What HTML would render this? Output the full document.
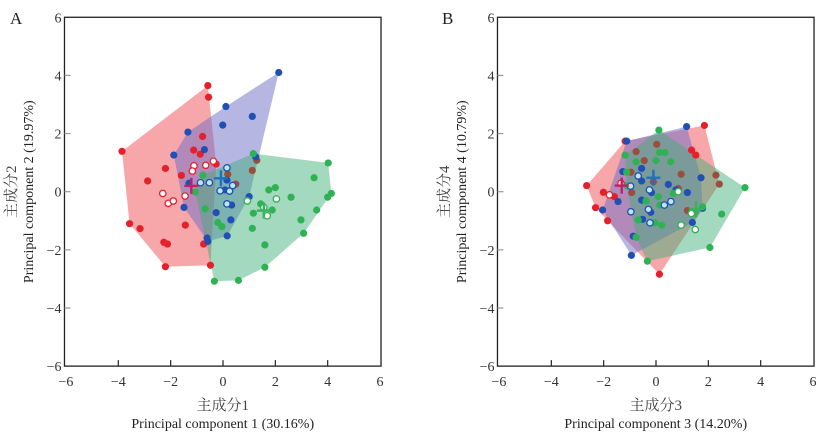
<!DOCTYPE html>
<html><head><meta charset="utf-8">
<style>
html,body{margin:0;padding:0;background:#fff;}
svg{display:block;font-family:"Liberation Serif","Noto Serif CJK SC",serif;}
</style></head>
<body>
<svg id="chart" width="829" height="443" viewBox="0 0 829 443" xmlns="http://www.w3.org/2000/svg"></svg>
<script>
// ---------- Data: Panel A (PC1 vs PC2) ----------
const aRed = [[-3.86,1.39],[-0.58,3.65],[-0.55,3.25],[-2.2,0.8],[-2.88,0.37],[-3.57,-1.1],[-3.17,-1.27],[-2.26,-1.74],[-2.12,-1.8],[-2.2,-2.58],[-1.44,-1.15],[-0.74,-1.8],[-0.48,-2.53],[-1.59,0.56],[-1.12,1.43],[-0.87,1.29],[-0.78,1.9],[-0.26,0.95]];
const aRedOpen = [[-2.3,-0.06],[-2.09,-0.4],[-1.9,-0.32],[-1.45,-0.15],[-1.11,0.89],[-1.17,0.71],[-0.66,0.91],[-0.37,1.05]];
const aBlue = [[2.13,4.1],[0.11,2.93],[1.12,2.59],[-0.01,2.29],[-1.34,2.05],[-1.88,1.26],[-0.71,1.45],[-1.3,0.29],[-1.49,-0.54],[-0.26,-0.72],[0.3,-0.97],[0.33,-0.46],[0.08,0.06],[0.15,0.4],[1.0,-0.17],[1.25,1.2],[-0.61,-1.59],[-0.58,-1.71],[0.16,-1.52]];
const aBlueOpen = [[-0.86,0.31],[-0.52,0.31],[-0.11,0.03],[0.25,0.02],[0.15,0.82],[0.15,-0.42],[0.37,0.21]];
const aGreen = [[4.02,0.99],[3.48,0.48],[4.14,-0.06],[4.0,-0.19],[3.58,-0.63],[2.98,-0.97],[3.08,-1.43],[2.6,-0.19],[2.0,0.14],[1.75,0.06],[1.44,-0.42],[1.88,-0.63],[1.16,-0.74],[1.12,-1.26],[1.6,-1.83],[1.6,-2.6],[0.59,-3.05],[-0.33,-3.08],[-0.2,-1.06],[-0.04,-1.2],[-0.68,-0.59],[-1.06,-0.01],[-0.77,0.57],[1.16,1.31]];
const aGreenOpen = [[0.93,-0.32],[2.04,-0.25],[1.69,-0.83],[1.56,-0.54]];
const aBrown = [[1.12,0.73],[1.29,1.08],[0.49,0.26],[0.18,0.6]];
const aCentroids = [[-1.21,0.2],[-0.08,0.46],[1.56,-0.65]];

// ---------- Data: Panel B (PC3 vs PC4) ----------
const bRed = [[-2.65,0.21],[-2.01,-0.02],[-2.31,-0.55],[-1.85,-1.0],[-1.59,-0.17],[-1.18,1.74],[1.85,2.28],[1.36,1.43],[1.52,1.26],[0.13,-2.84]];
const bRedOpen = [[-1.34,0.29],[-1.78,-0.11]];
const bBlue = [[-1.12,1.74],[1.17,2.24],[-1.27,0.69],[-0.55,0.8],[-0.55,0.37],[-0.17,-0.03],[0.47,0.25],[0.76,0.06],[1.2,-0.03],[1.72,0.48],[-1.45,-0.34],[-2.04,-0.63],[-0.55,-0.29],[-0.2,-0.71],[-0.51,-0.95],[-0.87,-1.53],[-0.94,-2.19],[1.39,-1.06],[1.78,-0.57]];
const bBlueOpen = [[-0.97,0.19],[-0.68,0.54],[-0.25,0.06],[-0.96,-0.69],[-0.29,-0.61],[0.57,-0.34],[-0.23,-1.07],[0.32,-0.46]];
const bGreen = [[0.11,2.12],[-1.18,1.26],[-0.76,1.03],[0,1.07],[0.13,1.35],[0.34,1.35],[0.56,1.03],[-1.12,0.67],[-1.12,0.21],[-0.38,-0.32],[0.09,-0.17],[0.15,-0.46],[0.66,-0.06],[-0.68,-0.97],[-0.04,-1.07],[0.22,-1.15],[-0.76,-1.57],[-0.33,-2.39],[2.06,-1.92],[2.51,-0.77],[3.4,0.14],[1.78,-0.52],[1.5,-0.69]];
const bGreenOpen = [[0.85,0],[0.96,-1.15],[1.5,-1.3],[1.35,-0.75]];
const bBrown = [[0.03,1.63],[-0.76,1.38],[-0.45,1.07],[-0.96,0.67],[-0.93,-0.03],[-0.1,0.34],[0.96,0.6],[2.29,0.57],[2.42,0.26],[0.85,0.11],[1.2,-0.65]];
const bCentroids = [[-1.31,0.21],[-0.1,0.48],[1.53,-0.6]];

const tickValues = [-6,-4,-2,0,2,4,6];
const tickLabels = ["\u22126","\u22124","\u22122","0","2","4","6"];

const NS = "http://www.w3.org/2000/svg";
const svg = document.getElementById("chart");
function mk(tag, attrs, parent){const e=document.createElementNS(NS,tag);for(const k in attrs)e.setAttribute(k,attrs[k]);(parent||svg).appendChild(e);return e;}

function hull(pts){
  const p=pts.slice().sort((a,b)=>a[0]-b[0]||a[1]-b[1]);
  const cr=(o,a,b)=>(a[0]-o[0])*(b[1]-o[1])-(a[1]-o[1])*(b[0]-o[0]);
  const lo=[],up=[];
  for(const q of p){while(lo.length>=2&&cr(lo[lo.length-2],lo[lo.length-1],q)<=0)lo.pop();lo.push(q);}
  for(let i=p.length-1;i>=0;i--){const q=p[i];while(up.length>=2&&cr(up[up.length-2],up[up.length-1],q)<=0)up.pop();up.push(q);}
  up.pop();lo.pop();return lo.concat(up);
}

const COL={red:"#e3202b",blue:"#2150b4",green:"#2fb254",brown:"#9a4f3e"};

function panel(cfg){
  const g=mk("g",{});
  
  
  const x0=cfg.x0, unitX=26.17, y0=191.7, unitY=29.07;
  const sx=v=>x0+v*unitX, sy=v=>y0-v*unitY;
  const L=sx(-6)-1.5, R=sx(6)+1, T=sy(6), B=sy(-6);
  const redHullPts=cfg.red.concat(cfg.redOpen, cfg.brownInRed?cfg.brown:[]);
  const hulls=[["red",redHullPts,"rgba(240,95,100,0.55)"],["blue",cfg.blue.concat(cfg.blueOpen),"rgba(110,110,200,0.5)"],["green",cfg.green.concat(cfg.greenOpen),"rgba(60,175,120,0.47)"]];
  for(const [nm,pts,fill] of hulls){
    const h=hull(pts);
    const poly=mk("polygon",{points:h.map(p=>sx(p[0])+","+sy(p[1])).join(" "),fill:fill,stroke:"none"},g);
    
    
  }
  const fr=mk("rect",{x:L,y:T,width:R-L,height:B-T,fill:"none",stroke:"#222","stroke-width":1.3},g);
  
  
  tickValues.forEach((v,i)=>{
    if(i>0&&i<tickValues.length-1){
      mk("line",{x1:sx(v),x2:sx(v),y1:B,y2:B-6,stroke:"#222","stroke-width":1.2},g);
      mk("line",{x1:L,x2:L+6,y1:sy(v),y2:sy(v),stroke:"#999","stroke-width":1.2},g);
    }
    const tx=mk("text",{x:sx(v),y:B+20,"text-anchor":"middle","font-size":14,fill:"#333"},g);
    tx.textContent=tickLabels[i];
    
    
    const ty=mk("text",{x:L-3,y:sy(v)+5,"text-anchor":"end","font-size":14,fill:"#333"},g);
    ty.textContent=tickLabels[i];
    
    
  });
  const groups=[["brown",cfg.brown,false],["red",cfg.red,false],["blue",cfg.blue,false],["green",cfg.green,false],["red",cfg.redOpen,true],["blue",cfg.blueOpen,true],["green",cfg.greenOpen,true]];
  for(const [nm,pts,open] of groups){
    for(const p of pts){
      const c=mk("circle",{cx:sx(p[0]),cy:sy(p[1]),r:open?3.2:3.6,fill:open?(nm==="blue"?"#bfe6ea":"#fff"):COL[nm],stroke:open?COL[nm]:"none","stroke-width":1.3},g);
      
      
    }
  }
  const cc=["#c0206a","#1e70c0","#3cb060"];
  cfg.cent.forEach((p,i)=>{
    const cx=sx(p[0]),cy=sy(p[1]);
    const cg=mk("g",{stroke:cc[i],"stroke-width":2.4},g);
    
    
    mk("line",{x1:cx-7,x2:cx+7,y1:cy,y2:cy},cg);
    mk("line",{x1:cx,x2:cx,y1:cy-8,y2:cy+8},cg);
  });
  const pl=mk("text",{x:cfg.labelX,y:24,"font-size":17,fill:"#222"},g);
  pl.textContent=cfg.letter;
  
  
  const midX=(L+R)/2, midY=(T+B)/2;
  const xt1=mk("text",{x:midX,y:410,"text-anchor":"middle","font-size":15,fill:"#444"},g);
  xt1.textContent=cfg.xcn;
  
  
  const xt2=mk("text",{x:midX,y:428,"text-anchor":"middle","font-size":14,fill:"#222"},g);
  xt2.textContent=cfg.xen;
  
  
  const yx1=cfg.x0-212;
  const yt1=mk("text",{x:0,y:0,"text-anchor":"middle","font-size":15,fill:"#444",transform:`translate(${yx1+5},${midY}) rotate(-90)`},g);
  yt1.textContent=cfg.ycn;
  
  
  const yt2=mk("text",{x:0,y:0,"text-anchor":"middle","font-size":14,fill:"#222",transform:`translate(${yx1+22},${midY}) rotate(-90)`},g);
  yt2.textContent=cfg.yen;
  
  
}

panel({name:"panel-a",x0:223,labelX:10,letter:"A",red:aRed,redOpen:aRedOpen,blue:aBlue,blueOpen:aBlueOpen,green:aGreen,greenOpen:aGreenOpen,brown:aBrown,brownInRed:false,cent:aCentroids,
  xcn:"主成分1",xen:"Principal component 1 (30.16%)",ycn:"主成分2",yen:"Principal component 2 (19.97%)"});
panel({name:"panel-b",x0:656,labelX:442,letter:"B",red:bRed,redOpen:bRedOpen,blue:bBlue,blueOpen:bBlueOpen,green:bGreen,greenOpen:bGreenOpen,brown:bBrown,brownInRed:true,cent:bCentroids,
  xcn:"主成分3",xen:"Principal component 3 (14.20%)",ycn:"主成分4",yen:"Principal component 4 (10.79%)"});
</script>
</body></html>
